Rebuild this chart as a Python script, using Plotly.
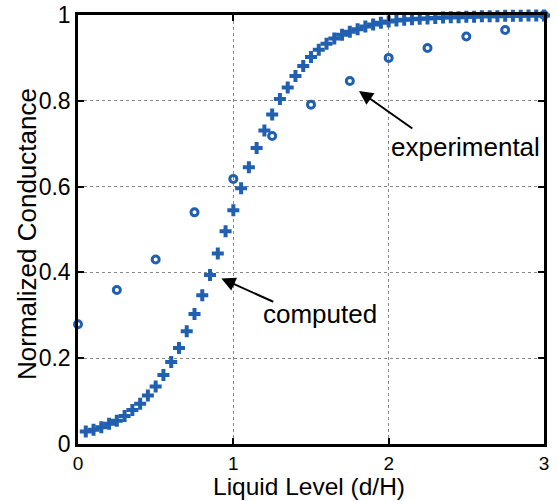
import plotly.graph_objects as go

# computed curve
comp_x = [0.05, 0.10, 0.15, 0.20, 0.25, 0.30, 0.35, 0.40, 0.45, 0.50,
          0.55, 0.60, 0.65, 0.70, 0.75, 0.80, 0.85, 0.90, 0.95, 1.00,
          1.05, 1.10, 1.15, 1.20, 1.25, 1.30, 1.35, 1.40, 1.45, 1.50,
          1.55, 1.60, 1.65, 1.70, 1.75, 1.80, 1.85, 1.90, 1.95, 2.00,
          2.05, 2.10, 2.15, 2.20, 2.25, 2.30, 2.35, 2.40, 2.45, 2.50,
          2.55, 2.60, 2.65, 2.70, 2.75, 2.80, 2.85, 2.90, 2.95, 3.00]
comp_y = [0.029, 0.033, 0.039, 0.047, 0.054, 0.065, 0.079, 0.094, 0.113, 0.134,
          0.161, 0.191, 0.224, 0.263, 0.303, 0.347, 0.394, 0.444, 0.496, 0.545,
          0.596, 0.645, 0.690, 0.731, 0.768, 0.804, 0.831, 0.858, 0.881, 0.902,
          0.919, 0.933, 0.945, 0.954, 0.961, 0.967, 0.973, 0.978, 0.982, 0.985,
          0.987, 0.989, 0.990, 0.991, 0.992, 0.993, 0.994, 0.995, 0.995, 0.996,
          0.996, 0.997, 0.997, 0.997, 0.998, 0.998, 0.998, 0.999, 0.999, 0.999]

# experimental points
exp_x = [0.0, 0.25, 0.5, 0.75, 1.0, 1.25, 1.5, 1.75, 2.0, 2.25, 2.5, 2.75, 3.0]
exp_y = [0.279, 0.359, 0.430, 0.540, 0.618, 0.718, 0.791, 0.846, 0.900, 0.923, 0.950, 0.965, 1.0]

x_ticks = [0, 1, 2, 3]
y_ticks = [0, 0.2, 0.4, 0.6, 0.8, 1]
y_tick_text = ["0", "0.2", "0.4", "0.6", "0.8", "1"]

x_title = "Liquid Level (d/H)"
y_title = "Normalized Conductance"

BLUE = "#2160b0"
FONT = "Liberation Sans, Arial, sans-serif"

fig = go.Figure()
fig.add_trace(go.Scatter(
    x=comp_x, y=comp_y, mode="markers", cliponaxis=False,
    marker=dict(symbol="cross", size=10, color=BLUE, line=dict(width=0)),
    name="computed"))
fig.add_trace(go.Scatter(
    x=exp_x, y=exp_y, mode="markers", cliponaxis=False,
    marker=dict(symbol="circle-open", size=7, color=BLUE, line=dict(width=3, color=BLUE)),
    name="experimental"))

axis_common = dict(
    showline=True, linecolor="black", linewidth=2.5, mirror="ticks",
    ticks="inside", ticklen=6, tickwidth=1.5, tickcolor="black",
    showgrid=True, gridcolor="#888888", gridwidth=1, griddash="dot",
    zeroline=False, automargin=False,
)

fig.update_xaxes(range=[0, 3], tickvals=x_ticks, ticktext=[str(v) for v in x_ticks],
                 tickfont=dict(family=FONT, size=19, color="black"),
                 **axis_common)
fig.update_yaxes(range=[0, 1], tickvals=y_ticks, ticktext=y_tick_text,
                 tickfont=dict(family=FONT, size=23, color="black"),
                 **axis_common)

# axis titles as annotations (exact placement)
fig.add_annotation(x=0.496, y=-0.1329, xref="paper", yref="paper", text=x_title,
                   showarrow=False, xanchor="center", yanchor="bottom", borderpad=0,
                   font=dict(family=FONT, size=24.5, color="black"))
fig.add_annotation(x=-0.109, y=0.49, xref="paper", yref="paper", text=y_title,
                   showarrow=False, xanchor="center", yanchor="middle", textangle=-90,
                   font=dict(family=FONT, size=26, color="black"))

arrow = dict(showarrow=True, arrowhead=2, arrowsize=1.4, arrowwidth=2, arrowcolor="black",
             axref="x", ayref="y", text="", xref="x", yref="y")
fig.add_annotation(x=1.809, y=0.823, ax=2.162, ay=0.733, **arrow)
fig.add_annotation(x=0.923, y=0.386, ax=1.267, ay=0.330, **arrow)

fig.add_annotation(x=2.496, y=0.692, text="experimental", showarrow=False, xref="x", yref="y",
                   font=dict(family=FONT, size=26, color="black"))
fig.add_annotation(x=1.556, y=0.303, text="computed", showarrow=False, xref="x", yref="y",
                   font=dict(family=FONT, size=26, color="black"))

fig.update_layout(
    width=558, height=501,
    margin=dict(l=78, r=14, t=15, b=57),
    plot_bgcolor="white", paper_bgcolor="white",
    showlegend=False,
)

fig.write_html("out.html")
